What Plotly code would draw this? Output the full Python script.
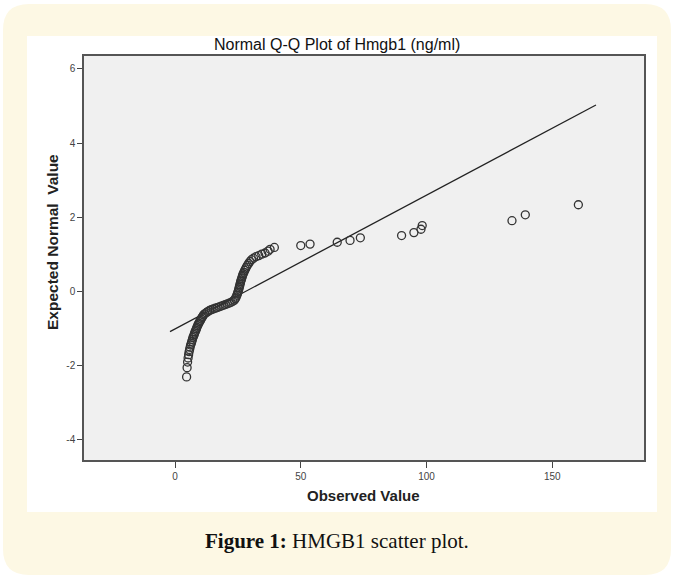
import plotly.graph_objects as go

observed = [4.6, 4.8, 5.0, 5.2, 5.4, 5.6, 5.8, 6.0, 6.2, 6.5,
            6.7, 6.9, 7.1, 7.4, 7.6, 7.8, 8.0, 8.3, 8.5, 8.7,
            9.0, 9.2, 9.5, 9.8, 10.1, 10.4, 10.7, 11.0, 11.3, 11.8,
            12.4, 13.0, 13.7, 14.4, 15.2, 16.0, 16.8, 17.6, 18.4, 19.2,
            20.0, 20.8, 21.6, 22.3, 23.0, 23.6, 24.0, 24.3, 24.6, 24.8,
            25.0, 25.2, 25.4, 25.5, 25.7, 25.8, 26.0, 26.1, 26.3, 26.5,
            26.7, 26.9, 27.1, 27.4, 27.7, 28.0, 28.4, 28.8, 29.3, 29.8,
            30.4, 31.2, 32.2, 33.3, 34.5, 35.8, 37.0, 37.8, 39.5, 50.0,
            53.7, 64.5, 69.6, 73.7, 90.1, 95.0, 97.8, 98.3, 134.0, 139.3,
            160.4]
expected = [-2.30, -2.05, -1.90, -1.79, -1.70, -1.62, -1.56, -1.50, -1.44, -1.39,
            -1.34, -1.29, -1.24, -1.20, -1.16, -1.12, -1.08, -1.04, -1.00, -0.96,
            -0.92, -0.88, -0.85, -0.81, -0.78, -0.74, -0.70, -0.67, -0.63, -0.60,
            -0.57, -0.54, -0.51, -0.49, -0.47, -0.45, -0.43, -0.41, -0.39, -0.37,
            -0.35, -0.33, -0.31, -0.29, -0.26, -0.23, -0.19, -0.15, -0.10, -0.06,
            -0.02, 0.02, 0.07, 0.11, 0.15, 0.19, 0.23, 0.27, 0.31, 0.35,
            0.40, 0.44, 0.48, 0.52, 0.57, 0.61, 0.66, 0.71, 0.76, 0.81,
            0.86, 0.90, 0.94, 0.97, 1.01, 1.04, 1.09, 1.14, 1.19, 1.24,
            1.28, 1.33, 1.38, 1.45, 1.51, 1.59, 1.68, 1.78, 1.91, 2.07,
            2.34]

# Reference line end points
line_x = [-2.0, 167.4]
line_y = [-1.08, 5.03]

x_ticks = [0, 50, 100, 150]
x_labels = ["0", "50", "100", "150"]
y_ticks = [-4, -2, 0, 2, 4, 6]
y_labels = ["-4", "-2", "0", "2", "4", "6"]

W, H = 674, 577
def px(x):
    return x / W
def py(y):
    return 1 - y / H

fig = go.Figure()
fig.add_trace(go.Scatter(x=line_x, y=line_y, mode="lines",
                         line=dict(color="#222222", width=1.3),
                         showlegend=False, hoverinfo="skip"))
fig.add_trace(go.Scatter(x=observed, y=expected, mode="markers",
                         marker=dict(symbol="circle-open", size=8,
                                     color="#333333", line=dict(width=1.3, color="#333333")),
                         showlegend=False))

cream = "#fdf8e4"
r = 26
x0, y0, x1, y1 = 3, 4, 671, 575
path = (f"M {px(x0 + r)},{py(y0)} L {px(x1 - r)},{py(y0)} "
        f"Q {px(x1)},{py(y0)} {px(x1)},{py(y0 + r)} "
        f"L {px(x1)},{py(y1 - r)} Q {px(x1)},{py(y1)} {px(x1 - r)},{py(y1)} "
        f"L {px(x0 + r)},{py(y1)} Q {px(x0)},{py(y1)} {px(x0)},{py(y1 - r)} "
        f"L {px(x0)},{py(y0 + r)} Q {px(x0)},{py(y0)} {px(x0 + r)},{py(y0)} Z")

PL, PR, PT, PB = 84, 644, 56, 460

shapes = [
    dict(type="path", xref="paper", yref="paper", path=path,
         fillcolor=cream, line=dict(width=0), layer="below"),
    dict(type="rect", xref="paper", yref="paper",
         x0=px(27), x1=px(657), y0=py(512), y1=py(36),
         fillcolor="white", line=dict(width=0), layer="below"),
    dict(type="rect", xref="paper", yref="paper",
         x0=px(PL), x1=px(PR), y0=py(PB), y1=py(PT),
         fillcolor="#f0f0f0", line=dict(width=0), layer="below"),
]

fig.update_layout(
    width=W, height=H,
    margin=dict(l=0, r=0, t=0, b=0),
    paper_bgcolor="white",
    plot_bgcolor="#f0f0f0",
    shapes=shapes,
    font=dict(family="Liberation Sans, Arial, sans-serif", color="#333"),
    xaxis=dict(domain=[px(PL), px(PR)], range=[-36.2, 186.5],
               tickvals=x_ticks, ticktext=x_labels, ticks="outside", ticklen=6,
               tickcolor="#444",
               showgrid=False, zeroline=False, showline=True, mirror=True,
               linecolor="#555", linewidth=1.5,
               tickfont=dict(size=10, color="#444")),
    yaxis=dict(domain=[py(PB), py(PT)], range=[-4.54, 6.35],
               tickvals=y_ticks, ticktext=y_labels, ticks="outside", ticklen=5,
               tickcolor="#444",
               showgrid=False, zeroline=False, showline=True, mirror=True,
               linecolor="#555", linewidth=1.5,
               tickfont=dict(size=10, color="#444")),
    annotations=[
        dict(text="Normal Q-Q Plot of Hmgb1 (ng/ml)", xref="paper", yref="paper",
             x=px(337), y=py(44), showarrow=False, xanchor="center", yanchor="middle",
             font=dict(size=16, color="#111", family="Liberation Sans, Arial, sans-serif")),
        dict(text="<b>Observed Value</b>", xref="paper", yref="paper",
             x=px(363), y=py(495), showarrow=False, xanchor="center", yanchor="middle",
             font=dict(size=15, color="#222", family="Liberation Sans, Arial, sans-serif")),
        dict(text="<b>Expected Normal&nbsp; Value</b>",
             xref="paper", yref="paper",
             x=px(52), y=py(242), showarrow=False, textangle=-90,
             xanchor="center", yanchor="middle",
             font=dict(size=15.5, color="#222", family="Liberation Sans, Arial, sans-serif")),
        dict(text="<b>Figure 1:</b> HMGB1 scatter plot.", xref="paper", yref="paper",
             x=px(337), y=py(541), showarrow=False, xanchor="center", yanchor="middle",
             font=dict(size=21, color="#111", family="Liberation Serif, DejaVu Serif, serif")),
    ],
)

fig.write_html("out.html")
